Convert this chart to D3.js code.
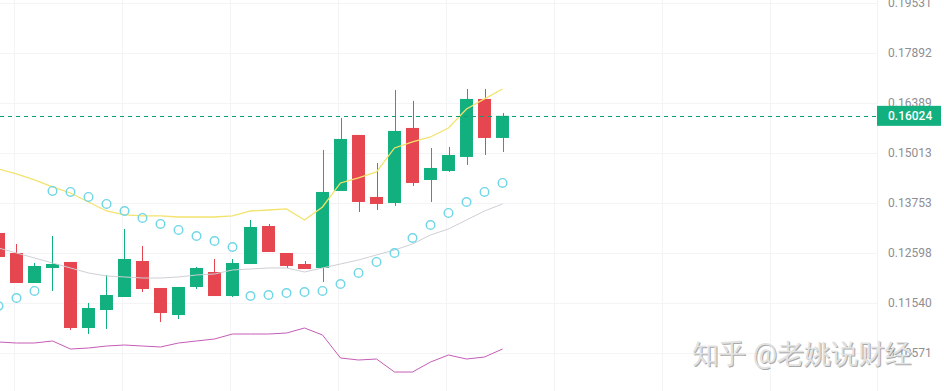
<!DOCTYPE html>
<html>
<head>
<meta charset="utf-8">
<script src="https://cdn.jsdelivr.net/npm/d3@7"></script>
<style>
  html, body { margin: 0; padding: 0; background: #fff; }
  #chart { width: 944px; height: 391px; overflow: hidden; }
  text { font-family: Roboto, "Noto Sans", sans-serif; }
</style>
</head>
<body>
<div id="chart"></div>
<script>
// candle data (oldest -> newest)
const opens  = [0.13048, 0.12598, 0.11952, 0.12271, 0.12401, 0.11045, 0.11399, 0.11662, 0.12422, 0.11848,
                0.11299, 0.11869, 0.12185, 0.11682, 0.12357, 0.13209, 0.12598, 0.12357, 0.12271, 0.14046,
                0.15496, 0.13899, 0.13753, 0.15687, 0.14319, 0.14547, 0.14909, 0.16506, 0.15414];
const highs  = [0.13100, 0.12799, 0.12379, 0.12979, 0.12401, 0.11540, 0.12121, 0.13140, 0.12754, 0.11848,
                0.11869, 0.12292, 0.12466, 0.12466, 0.13349, 0.13256, 0.12598, 0.12422, 0.15093, 0.15965,
                0.15496, 0.14753, 0.16768, 0.16448, 0.15146, 0.15173, 0.16798, 0.16798, 0.16105];
const lows   = [0.12450, 0.11952, 0.11952, 0.11786, 0.11006, 0.10929, 0.11026, 0.11662, 0.11765, 0.11162,
                0.11220, 0.11827, 0.11682, 0.11662, 0.12357, 0.12620, 0.12271, 0.12249, 0.11973, 0.14046,
                0.13537, 0.13585, 0.13681, 0.14169, 0.13777, 0.14522, 0.14701, 0.14961, 0.15040];
const closes = [0.12510, 0.11952, 0.12314, 0.12357, 0.11045, 0.11439, 0.11703, 0.12466, 0.11827, 0.11339,
                0.11869, 0.12271, 0.11682, 0.12379, 0.13186, 0.12620, 0.12314, 0.12249, 0.14021, 0.15387,
                0.13777, 0.13729, 0.15605, 0.14244, 0.14624, 0.14961, 0.16506, 0.15414, 0.16024];

// indicator lines
const upperBand = [0.14598, 0.14471, 0.14319, 0.14145, 0.13996, 0.13777, 0.13561, 0.13467, 0.13443, 0.13443,
                   0.13419, 0.13419, 0.13419, 0.13443, 0.13561, 0.13585, 0.13609, 0.13349, 0.13657, 0.14244,
                   0.14370, 0.14522, 0.15146, 0.15307, 0.15441, 0.15687, 0.16219, 0.16506, 0.16798];
const midBand   = [0.12709, 0.12598, 0.12488, 0.12379, 0.12271, 0.12164, 0.12100, 0.12079, 0.12057, 0.12057,
                   0.12079, 0.12121, 0.12142, 0.12228, 0.12249, 0.12271, 0.12271, 0.12185, 0.12271, 0.12357,
                   0.12444, 0.12554, 0.12664, 0.12799, 0.13002, 0.13140, 0.13349, 0.13561, 0.13729];
const lowerBand = [0.10777, 0.10758, 0.10758, 0.10796, 0.10645, 0.10664, 0.10701, 0.10720, 0.10701, 0.10683,
                   0.10758, 0.10796, 0.10834, 0.10929, 0.10929, 0.10929, 0.10948, 0.11045, 0.10910, 0.10479,
                   0.10442, 0.10460, 0.10224, 0.10224, 0.10405, 0.10534, 0.10460, 0.10497, 0.10645];
const sar       = [0.11480, 0.11642, 0.11786, 0.14046, 0.14021, 0.13899, 0.13729, 0.13561, 0.13396, 0.13256,
                   0.13117, 0.12979, 0.12866, 0.12731, 0.11682, 0.11703, 0.11744, 0.11765, 0.11786, 0.11931,
                   0.12164, 0.12401, 0.12598, 0.12934, 0.13232, 0.13514, 0.13777, 0.14021, 0.14244];

const priceTicks = [0.19531, 0.17892, 0.16389, 0.15013, 0.13753, 0.12598, 0.11540, 0.10571];
const lastPrice = 0.16024;
// time grid lines, in candle-index units
const timeGrid = [0.86, 6.86, 12.86, 18.86, 24.86, 30.86, 36.86, 42.86];
const watermark = "知乎 @老姚说财经";

const width = 944, height = 391;
const plotRight = 877;
const up = "#12b07f", down = "#e5464f";

const data = opens.map((o, i) => ({ i, o, h: highs[i], l: lows[i], c: closes[i] }));

const svg = d3.select('#chart').html("")
  .append('svg')
  .attr('width', width)
  .attr('height', height);

// scales
const x = d3.scaleBand()
  .domain(d3.range(data.length))
  .range([-10.5, 511.5])
  .paddingInner(0.28)
  .paddingOuter(0.14);
const xc = i => x(i) + x.bandwidth() / 2;
const xLin = d3.scaleLinear().domain([0, data.length - 1]).range([xc(0), xc(data.length - 1)]);

const y = d3.scaleLog()
  .domain([0.10571, 0.19531])
  .range([353, 3]);

// grid
svg.append('g')
  .selectAll('line')
  .data(priceTicks)
  .enter().append('line')
  .attr('x1', 0).attr('x2', plotRight)
  .attr('y1', d => Math.round(y(d)) + 0.5)
  .attr('y2', d => Math.round(y(d)) + 0.5)
  .attr('stroke', '#f4f4f6');

svg.append('g')
  .selectAll('line')
  .data(timeGrid)
  .enter().append('line')
  .attr('x1', d => Math.round(xLin(d)) + 0.5)
  .attr('x2', d => Math.round(xLin(d)) + 0.5)
  .attr('y1', 0).attr('y2', height)
  .attr('stroke', '#f4f4f6');

svg.append('line')
  .attr('x1', plotRight + 0.5).attr('x2', plotRight + 0.5)
  .attr('y1', 0).attr('y2', height)
  .attr('stroke', '#f2f2f4');

// candles
const candles = svg.append('g').selectAll('g')
  .data(data)
  .enter().append('g');

candles.append('line')
  .attr('x1', d => Math.round(xc(d.i)) + 0.5)
  .attr('x2', d => Math.round(xc(d.i)) + 0.5)
  .attr('y1', d => y(d.h))
  .attr('y2', d => y(d.l))
  .attr('stroke', d => d.c >= d.o ? up : down)
  .attr('stroke-width', 1);

candles.append('rect')
  .attr('x', d => x(d.i))
  .attr('width', x.bandwidth())
  .attr('y', d => y(Math.max(d.o, d.c)))
  .attr('height', d => Math.max(1, Math.abs(y(d.o) - y(d.c))))
  .attr('fill', d => d.c >= d.o ? up : down);

// indicator lines
const line = d3.line()
  .x((d, i) => xc(i))
  .y(d => y(d));

svg.append('path')
  .datum(midBand)
  .attr('d', line)
  .attr('fill', 'none')
  .attr('stroke', '#cfcfd6')
  .attr('stroke-width', 1);

svg.append('path')
  .datum(lowerBand)
  .attr('d', line)
  .attr('fill', 'none')
  .attr('stroke', '#c55db5')
  .attr('stroke-width', 1);

svg.append('path')
  .datum(upperBand)
  .attr('d', line)
  .attr('fill', 'none')
  .attr('stroke', '#f3e36c')
  .attr('stroke-width', 1.3);

// parabolic SAR
svg.append('g')
  .selectAll('circle')
  .data(sar)
  .enter().append('circle')
  .attr('cx', (d, i) => xc(i))
  .attr('cy', d => y(d))
  .attr('r', 4.3)
  .attr('fill', 'none')
  .attr('stroke', '#6fd6e6')
  .attr('stroke-width', 1.4);

// last price line
svg.append('line')
  .attr('x1', 0).attr('x2', plotRight)
  .attr('y1', Math.round(y(lastPrice)) + 0.5)
  .attr('y2', Math.round(y(lastPrice)) + 0.5)
  .attr('stroke', '#0e9f76')
  .attr('stroke-dasharray', '4,4');

// price axis
const axis = svg.append('g')
  .attr('transform', `translate(${plotRight},0)`)
  .call(d3.axisRight(y).tickValues(priceTicks).tickFormat(d3.format('.5f')).tickSize(0).tickPadding(11));
axis.select('.domain').remove();
axis.selectAll('text')
  .attr('fill', '#8e8e93')
  .attr('font-size', 12)
  .attr('font-family', 'Roboto, sans-serif');

// last price label
const ly = y(lastPrice);
svg.append('rect')
  .attr('x', plotRight)
  .attr('y', ly - 10)
  .attr('width', 64)
  .attr('height', 20)
  .attr('fill', '#12b07f');
svg.append('text')
  .attr('x', plotRight + 11)
  .attr('y', ly)
  .attr('dy', '0.35em')
  .attr('fill', '#fff')
  .attr('font-size', 12)
  .attr('font-weight', 500)
  .text(d3.format('.5f')(lastPrice));

// watermark
const wm = svg.append('g').attr('font-family', '"Noto Sans CJK SC", sans-serif').attr('font-size', 27);
wm.append('text')
  .attr('x', 693).attr('y', 364)
  .attr('fill', '#8d8d8d')
  .attr('opacity', 0.75)
  .text(watermark);
wm.append('text')
  .attr('x', 692).attr('y', 363)
  .attr('fill', '#e2e2e2')
  .text(watermark);
</script>
</body>
</html>
